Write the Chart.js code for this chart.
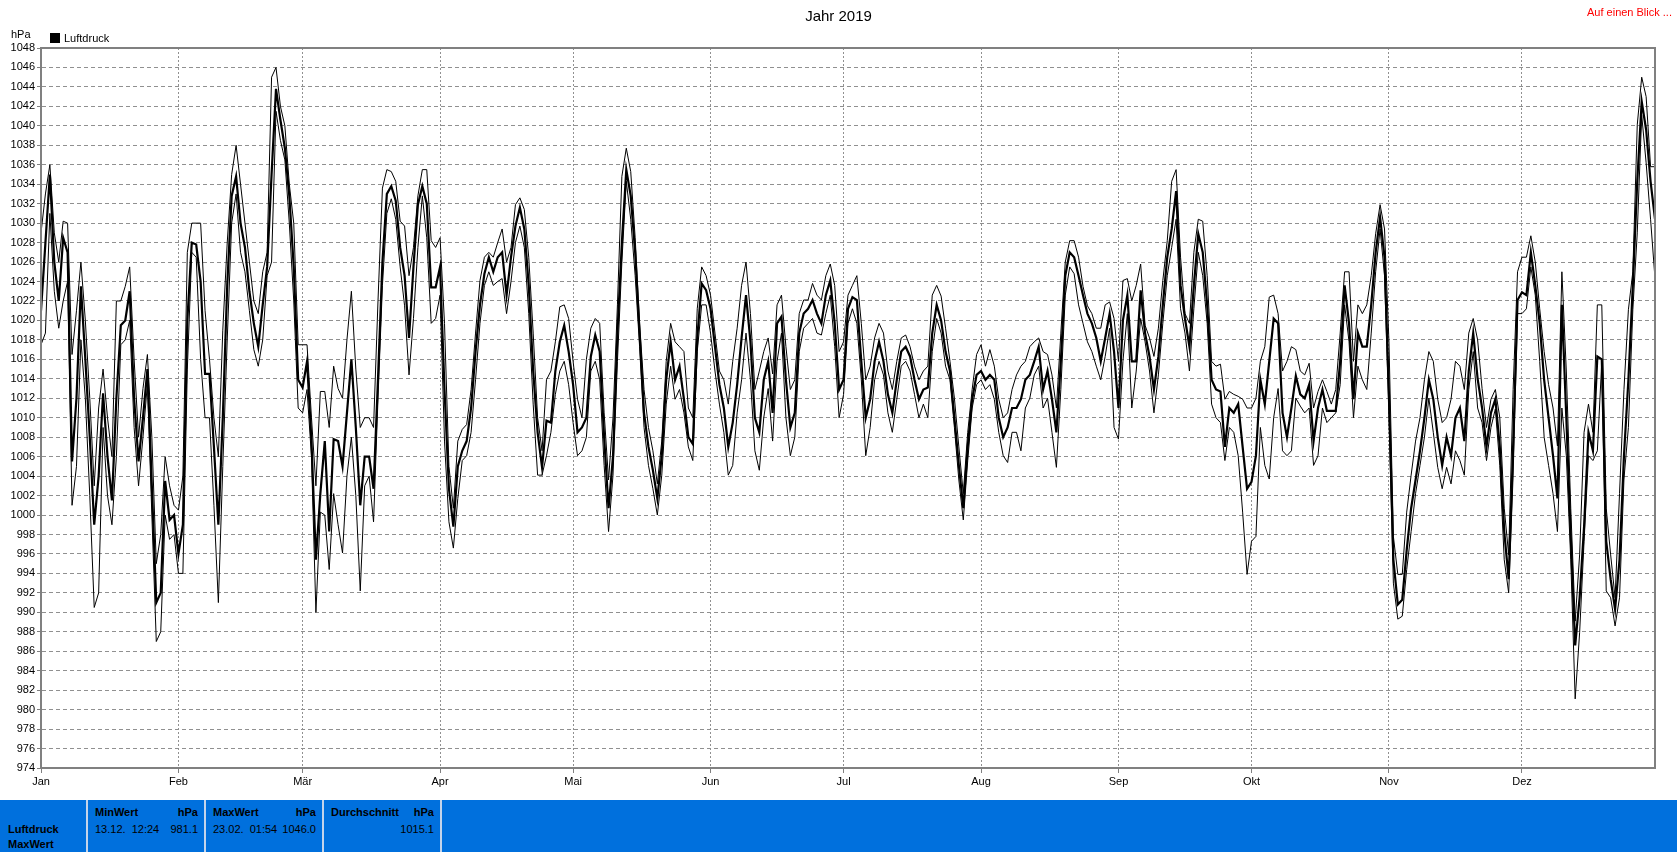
<!DOCTYPE html>
<html>
<head>
<meta charset="utf-8">
<script src="https://cdn.jsdelivr.net/npm/chart.js@4.4.1/dist/chart.umd.min.js"></script>
<style>
html,body{margin:0;padding:0;background:#fff;width:1677px;height:852px;overflow:hidden;font-family:"Liberation Sans",Arial,sans-serif;}
#wrap{position:absolute;left:0;top:0;width:1677px;height:800px;}
.t{position:absolute;white-space:pre;color:#000;line-height:14px;}
#panel{position:absolute;left:0;top:800px;width:1677px;height:52px;background:#0070dd;}
.sep{position:absolute;top:0;width:2px;height:52px;background:#c4d4ea;}
.b{font-weight:bold;}
.p{position:absolute;white-space:pre;color:#000;font-size:11px;line-height:13px;}
.r{text-align:right;}
</style>
</head>
<body>
<div id="wrap"><canvas id="c" width="1677" height="800"></canvas></div>

<div class="t" style="left:0;width:1677px;text-align:center;top:7px;font-size:15px;line-height:17px;">Jahr 2019</div>
<div class="t" style="right:5px;top:5px;font-size:11px;color:#ff0000;text-align:right;">Auf einen Blick ...</div>
<div class="t" style="left:11px;top:27px;font-size:11px;">hPa</div>
<div style="position:absolute;left:50px;top:33px;width:10px;height:10px;background:#000;"></div>
<div class="t" style="left:64px;top:31px;font-size:11px;">Luftdruck</div>

<div id="panel">
  <div class="sep" style="left:86px"></div>
  <div class="sep" style="left:204px"></div>
  <div class="sep" style="left:322px"></div>
  <div class="sep" style="left:440px"></div>
  <div class="p b" style="left:8px;top:23px;">Luftdruck</div>
  <div class="p b" style="left:8px;top:38px;">MaxWert</div>
  <div class="p b" style="left:95px;top:6px;">MinWert</div>
  <div class="p b r" style="left:150px;width:48px;top:6px;">hPa</div>
  <div class="p" style="left:95px;top:23px;">13.12.  12:24</div>
  <div class="p r" style="left:150px;width:48px;top:23px;">981.1</div>
  <div class="p b" style="left:213px;top:6px;">MaxWert</div>
  <div class="p b r" style="left:268px;width:48px;top:6px;">hPa</div>
  <div class="p" style="left:213px;top:23px;">23.02.  01:54</div>
  <div class="p r" style="left:268px;width:48px;top:23px;">1046.0</div>
  <div class="p b" style="left:331px;top:6px;">Durchschnitt</div>
  <div class="p b r" style="left:386px;width:48px;top:6px;">hPa</div>
  <div class="p r" style="left:380px;width:54px;top:23px;">1015.1</div>
</div>

<script>
const monthLabels = ["Jan","Feb","Mär","Apr","Mai","Jun","Jul","Aug","Sep","Okt","Nov","Dez"];
const monthStartDays = [0,31,59,90,120,151,181,212,243,273,304,334];
const yAxisMin = 974;
const yAxisMax = 1048;
const yAxisStep = 2;

const dailyMean = [
1021,1028,1035,1026,1022,1028.5,1027,1005.5,1012,1023.5,
1016,1008,999,1004,1012.5,1006,1001.5,1012,1019.5,1020,
1023,1012,1005.5,1010,1015,1003,991,992,1003.5,999.5,
1000,996,999,1020,1028,1027.8,1024,1014.5,1014.5,1007,
999,1010,1023.6,1032.8,1034.8,1030,1027.5,1023,1019.7,1017.3,
1021.6,1025.5,1035,1043.8,1040.6,1037.7,1032.8,1025.5,1013.9,1013.1,
1015.8,1007.6,995.4,1002.2,1007.6,998.3,1007.8,1007.6,1005,1010.5,
1016,1009,1001,1006,1006,1002.7,1014,1026,1033,1033.8,
1032.3,1027.5,1024.6,1018.2,1025.5,1031.9,1033.8,1032,1023.4,1023.4,
1025.5,1012.9,1002.7,998.8,1005,1006.6,1007.6,1011,1016.8,1021.6,
1024.8,1026.5,1025,1026.5,1027,1022.6,1026.5,1029.7,1031.6,1029.4,
1023.6,1014.8,1008.5,1004.9,1009.7,1009.5,1014.8,1017.8,1019.5,1016.8,
1013.4,1008.5,1009,1010,1016.3,1018.5,1016.8,1008,1000.7,1006,
1018.7,1028,1035.5,1032.8,1027,1018.7,1010.5,1007,1004.6,1001.7,
1006.1,1013.9,1017.8,1013.9,1015.3,1011.9,1008,1007.3,1018.2,1023.8,
1023.1,1021.2,1017.3,1013.4,1011,1007,1009.5,1013.4,1018.2,1022.6,
1017.8,1010,1008.5,1013.9,1015.8,1010.5,1019.7,1020.4,1013.9,1009,
1010.5,1018.7,1020.7,1021.2,1022.1,1020.7,1019.7,1022.6,1024.1,1019.7,
1012.9,1013.9,1021.2,1022.4,1022.1,1015.8,1010,1011.9,1015.8,1017.8,
1015.8,1012.4,1010.5,1013.9,1016.8,1017.3,1016.3,1013.9,1011.9,1012.9,
1013.1,1018.7,1021.6,1020,1016.8,1014.8,1010,1005.1,1000.7,1007,
1011.9,1014.4,1014.8,1013.9,1014.4,1013.9,1010,1008,1009,1011,
1011,1011.9,1013.9,1014.4,1015.8,1017.3,1012.9,1014.8,1011.9,1008.5,
1015.8,1024.6,1027,1026.5,1024.6,1022.6,1020.7,1019.7,1018.2,1015.8,
1018.2,1020.7,1016.8,1011,1020,1022.6,1015.8,1015.8,1023.1,1018.7,
1016.3,1012.9,1016.3,1021.6,1026.5,1029.4,1033.3,1023.6,1020.2,1017.3,
1023.6,1028.9,1027,1021.6,1013.9,1012.9,1012.7,1007,1011,1010.5,
1011.4,1007,1002.7,1003.4,1006.1,1013.9,1011.4,1015.8,1020.2,1019.7,
1010.5,1008,1011,1014.3,1012.4,1012,1013.4,1007.6,1011,1012.9,
1010.7,1010.7,1010.7,1015.8,1023.6,1019.7,1011.9,1018.7,1017.3,1017.3,
1021.6,1027,1030.6,1026.5,1012.4,995.4,990.8,991.3,996.4,1000.7,
1003.6,1006.6,1010,1013.9,1011.9,1008,1005.1,1008,1006.1,1010,
1011,1007.6,1014.8,1018.7,1014,1011,1007,1010.5,1011.9,1007,
998.3,993.4,1007,1022.1,1022.9,1022.6,1027,1023.6,1019.7,1013.9,
1010,1006.1,1001.7,1021.6,1010,997.8,986.6,991.5,998.8,1008.5,
1006.6,1016.3,1016,997.3,993.4,990.3,995.4,1006.1,1013.9,1023.6,
1034.3,1042.5,1039.6,1034.3,1030.4
];

const dailyMax = [
1029,1033,1036,1029,1026,1030.2,1030,1016.5,1021,1026,
1020,1012,1003,1011,1015,1010,1006,1022,1022,1023.5,
1025.5,1016,1008,1013,1016.5,1008,995,998,1006,1003,
1001,1000.5,1004,1027,1030,1030,1030,1021,1016,1010,
1006,1019,1028,1035,1038,1034,1030,1026,1022,1020.7,
1025,1027,1045,1046,1042,1040,1034,1030,1017.5,1017.5,
1017.5,1010,1003,1012.7,1012.7,1009,1015.3,1013,1012,1018,
1023,1015,1009,1010,1010,1009,1022,1033.6,1035.5,1035.3,
1034.3,1030.2,1029.7,1024.6,1027.5,1032.8,1035.5,1035.5,1028.2,1027.5,
1028.5,1019.7,1005,1000.7,1007.6,1008.8,1009.3,1012.9,1018.7,1024.1,
1026.5,1027,1026.5,1028,1029.4,1026,1027.5,1031.9,1032.6,1031.4,
1026.5,1018.7,1010,1006.6,1013.9,1014.8,1017.8,1021.4,1021.6,1020.2,
1015.8,1011.9,1010,1016,1019.2,1020.2,1019.7,1010.5,1003.6,1010,
1021.6,1034.8,1037.7,1035.3,1028.5,1019.7,1012.9,1009,1006.6,1003.2,
1007.6,1015.8,1019.7,1017.8,1017.3,1016.8,1011,1010,1021.2,1025.5,
1024.6,1022.6,1018.7,1014.8,1013.9,1011.4,1015.8,1019.2,1023.6,1026,
1020.7,1012.9,1014.8,1016.8,1018.2,1014.5,1021.6,1022.6,1017.3,1012.9,
1013.9,1020.7,1022.1,1022.1,1023.8,1022.6,1022.1,1024.6,1025.8,1023.6,
1016.8,1017.8,1022.6,1023.6,1024.6,1019.7,1013.9,1015.3,1018.2,1019.7,
1018.7,1014.8,1012.9,1015.8,1018.2,1018.5,1017.3,1015.3,1013.9,1014.8,
1015.3,1022.6,1023.6,1022.5,1019.2,1015.8,1012,1007,1002.2,1008.5,
1012.9,1016.5,1017.5,1015.3,1017,1015.3,1011.9,1010,1010.5,1012.9,
1014.4,1015.3,1015.8,1017.3,1017.8,1018.2,1016.8,1016.5,1014.4,1011,
1018.7,1026,1028.2,1028.2,1026.5,1023.5,1021.5,1020.7,1019.2,1019.2,
1021.6,1021.9,1020.2,1015.8,1024.1,1024.3,1022,1023.6,1025.8,1019.5,
1018.2,1016.3,1019.2,1024.1,1028.2,1034.3,1035.5,1026.5,1020.7,1019.7,
1027,1030.4,1030.2,1024.6,1015.8,1015.3,1015.5,1011.9,1012.7,1012.4,
1012.2,1011.9,1011,1011,1012,1015.8,1017.3,1022.4,1022.6,1020.7,
1014.8,1015.8,1017.3,1017,1014.8,1014.4,1015.6,1011,1012.7,1013.9,
1012.7,1011.4,1012.9,1018.7,1025,1025,1015.8,1021.6,1020.7,1021.6,
1024.6,1028.9,1031.9,1029.4,1017.8,997.8,993.9,993.9,1000.3,1004.1,
1007.6,1010,1013.9,1016.8,1015.8,1011.9,1009.5,1010,1011.9,1015.8,
1015.3,1012.9,1018.7,1020.2,1018,1013,1009,1011.9,1012.9,1010,
1000.7,995.9,1012.9,1025,1026.5,1026.5,1028.7,1026,1021.2,1016.8,
1013.4,1011,1007.1,1025,1014.8,1000.7,989.1,995.9,1008.5,1011.4,
1008.5,1021.6,1021.6,1000.7,995.9,991.5,1002.2,1012.9,1021.1,1025,
1040.1,1045,1043,1035.8,1035.8
];

const dailyMin = [
1017.5,1018.7,1031,1023,1019.2,1022,1024,1001,1005,1018,
1012,1002,990.5,992,1009,1002,999,1006,1017.5,1018,
1020,1009,1003,1008,1013.5,1000,987,988,1000,997.5,
998,994,994,1015,1027,1026.5,1016,1010,1010,1001,
991,1005,1018,1030,1033,1027,1025,1021,1017,1015.3,
1018,1024.6,1026,1041.5,1038.5,1036.5,1030,1022,1011,1010.5,
1012.9,1006,990,1000.3,1000,994.4,1002.2,999,996.1,1004,
1008,1002,992.2,1003,1004,999.3,1012,1023.6,1031,1032.5,
1030.4,1025.5,1021.5,1014.4,1020.2,1027.5,1032.8,1028.5,1019.7,1020.2,
1022.6,1007.6,999.3,996.6,1001.7,1005.6,1006.1,1008.5,1013.9,1019.7,
1023.6,1025,1023.6,1024,1024.3,1020.7,1024,1028,1029.7,1027.5,
1020.7,1011.4,1004.1,1004.1,1006.1,1008.5,1012.4,1014.8,1015.8,1013.4,
1009.5,1006.1,1006.6,1008,1014.8,1015.8,1013.9,1005.1,998.3,1004.1,
1015.8,1026,1034.3,1030.4,1024.6,1017.3,1009,1005.1,1002.7,1000,
1004.1,1011.4,1015.3,1011.9,1012.9,1010.5,1007,1005.6,1016.8,1021.6,
1021.6,1018.7,1014.8,1011.4,1008.5,1004.1,1005.1,1010.5,1013.9,1018.7,
1013.9,1006.6,1004.6,1010,1013,1007.6,1015.8,1018.7,1010,1006.1,
1008,1016.8,1019.2,1019.7,1020.2,1018.7,1018.5,1020.7,1022.6,1017.3,
1010,1012.4,1019.7,1021.2,1019.7,1013.9,1006.1,1009,1013.9,1015.8,
1014.4,1010.5,1008.5,1011.9,1015.3,1015.8,1014.8,1012.4,1010,1011.4,
1010,1016.8,1020.2,1018.7,1015.3,1013.9,1009,1003.6,999.5,1005.6,
1011,1013.4,1013.9,1012.9,1013.4,1011.9,1008.5,1006.1,1005.4,1008.5,
1008.5,1006.6,1011,1012,1014.4,1015.3,1011,1012,1008.5,1004.9,
1012.9,1022.6,1025.5,1024.8,1021.6,1019.7,1017.8,1016.8,1015.3,1013.9,
1016.3,1019.2,1009,1007.8,1015.8,1020.7,1011,1014.8,1020.2,1017.8,
1014.8,1010.5,1014.4,1019.7,1024.6,1027.5,1030.4,1021.2,1018.7,1014.8,
1021.2,1027,1024.6,1019.7,1011.4,1010,1009.5,1005.6,1009,1008.5,
1006.1,1000.3,993.9,997.3,997.8,1009,1005.1,1003.7,1010,1013,
1006.6,1006.1,1006.6,1012,1011.2,1010.5,1011,1005.1,1006.1,1011,
1009.5,1010,1010.5,1013.4,1021.6,1017.8,1010,1015.3,1013.9,1012.9,
1018.7,1025,1029.4,1024.6,1010,993,989.3,989.6,994.4,998.3,
1002.2,1005.1,1008,1012,1008.5,1004.9,1002.7,1004.9,1003.2,1006.6,
1005.6,1004.1,1012.9,1016.8,1011,1009.5,1005.6,1009,1010.9,1005.1,
995.4,992,1004.1,1020.7,1020.7,1021.2,1025.5,1022.6,1015.8,1008,
1005.1,1002.2,998.3,1011,1006.1,995.4,981.1,987.9,997.3,1006.1,
1005.6,1006.6,1015.8,992.2,991.5,988.6,991.5,1003.7,1009,1021.1,
1029,1041.1,1036.2,1030.4,1024.3
];

const FONT = "'Liberation Sans', Arial, sans-serif";
const toPoints = arr => arr.map((v, i) => ({x: i, y: v}));

const framePlugin = {
  id: 'frame',
  afterDraw(chart) {
    const a = chart.chartArea, ctx = chart.ctx;
    ctx.save();
    ctx.strokeStyle = '#808080';
    ctx.lineWidth = 2;
    ctx.strokeRect(a.left, a.top, a.right - a.left, a.bottom - a.top);
    ctx.restore();
  }
};

new Chart(document.getElementById('c'), {
  type: 'line',
  data: {
    datasets: [
      {label: 'Luftdruck', data: toPoints(dailyMean), borderColor: '#000', borderWidth: 2.2, pointRadius: 0, tension: 0, fill: false},
      {label: 'Luftdruck Max', data: toPoints(dailyMax), borderColor: '#000', borderWidth: 1, pointRadius: 0, tension: 0, fill: false},
      {label: 'Luftdruck Min', data: toPoints(dailyMin), borderColor: '#000', borderWidth: 1, pointRadius: 0, tension: 0, fill: false}
    ]
  },
  options: {
    responsive: false,
    animation: false,
    events: [],
    layout: {padding: {top: 48, right: 22, left: 0, bottom: 0}},
    plugins: {legend: {display: false}, title: {display: false}, tooltip: {enabled: false}},
    scales: {
      x: {
        type: 'linear',
        min: 0,
        max: dailyMean.length - 1,
        afterBuildTicks: s => { s.ticks = monthStartDays.map(v => ({value: v})); },
        afterFit: s => { s.height = 32; },
        ticks: {
          autoSkip: false, maxRotation: 0, padding: 2, color: '#000',
          font: {family: FONT, size: 11},
          callback: (v, i) => monthLabels[i]
        },
        grid: {color: '#909090', lineWidth: 1, tickLength: 5, tickColor: '#808080'},
        border: {display: true, color: '#808080', width: 2, dash: [2, 2]}
      },
      y: {
        min: yAxisMin,
        max: yAxisMax,
        afterFit: s => { s.width = 41; },
        ticks: {
          stepSize: yAxisStep, autoSkip: false, padding: 2, color: '#000',
          font: {family: FONT, size: 11},
          callback: v => String(v)
        },
        grid: {color: '#909090', lineWidth: 1, tickLength: 4, tickColor: '#808080'},
        border: {display: true, color: '#808080', width: 2, dash: [4, 3]}
      }
    }
  },
  plugins: [framePlugin]
});
</script>
</body>
</html>
